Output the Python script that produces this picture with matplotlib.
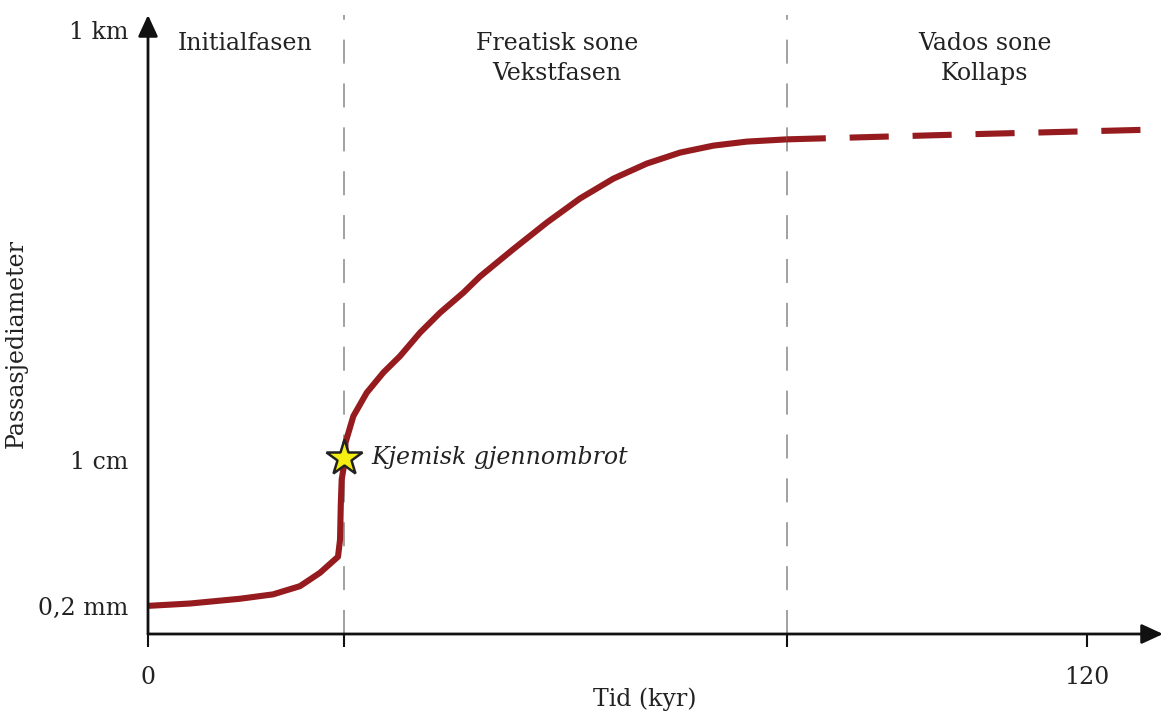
import matplotlib.pyplot as plt

plt.rcParams['font.family'] = ['DejaVu Serif']

# solid part of the curve (time in kyr, passage diameter in metres)
tid = [0, 5.37, 11.76, 15.97, 19.42, 21.98, 24.28, 24.54, 24.63, 24.75, 25.18,
       25.24, 26.24, 27.95, 30.07, 32.20, 34.76, 37.32, 40.30, 42.43, 46.65,
       50.99, 55.21, 59.46, 63.73, 67.99, 72.24, 76.51, 81.62]
diameter = [2.00e-4, 2.13e-4, 2.42e-4, 2.72e-4, 3.39e-4, 4.85e-4, 7.45e-4,
            1.18e-3, 2.88e-3, 5.90e-3, 1.01e-2, 0.0158, 0.0321, 0.0601, 0.103,
            0.160, 0.300, 0.512, 0.875, 1.35, 2.79, 5.74, 10.9, 18.5, 27.7,
            37.2, 44.8, 49.9, 53.0]
# dashed continuation (vados zone)
tid_vados = [81.62, 105.7, 129.7]
diameter_vados = [53.0, 61.0, 69.3]

gjennombrot = (25.05, 1.05e-2)
fasegrenser = [25.0, 81.66]

xticks = [0, 25.0, 81.66, 120]
xticklabels = ['0', '', '', '120']
yticks = [2e-4, 1e-2, 1e3]
yticklabels = ['0,2 mm', '1 cm', '1 km']

fasetekster = [(12.4, 'Initialfasen'), (52.3, 'Freatisk sone\nVekstfasen'),
               (106.9, 'Vados sone\nKollaps')]

red = '#951b1e'
txt = '#222222'
fs = 17

fig = plt.figure(figsize=(11.63, 7.16), dpi=100)
ax = fig.add_axes([148 / 1163, 82 / 716, 1015 / 1163, 619 / 716])
ax.set_yscale('log')
ax.set_xlim(0, 129.7)
ax.set_ylim(10 ** -4.026, 10 ** 3.17)

for s in ax.spines.values():
    s.set_visible(False)

for xg in fasegrenser:
    ax.axvline(xg, color='#9a9a9a', lw=1.3, dashes=(13.3, 11), zorder=1)

ax.plot(tid, diameter, color=red, lw=4.4, solid_capstyle='butt',
        solid_joinstyle='round', zorder=3)
ax.plot(tid_vados, diameter_vados, color=red, lw=4.4, dashes=(6.4, 3.9),
        dash_capstyle='butt', zorder=3)

ax.plot(*gjennombrot, marker='*', markersize=27, markerfacecolor='#f5ee10',
        markeredgecolor='#222222', markeredgewidth=1.8, zorder=4)
ax.text(28.6, gjennombrot[1], 'Kjemisk gjennombrot', style='italic',
        fontsize=fs, va='center', ha='left', color=txt)

for xc, t in fasetekster:
    ax.text(xc, 10 ** 2.97, t, ha='center', va='top', fontsize=fs,
            color=txt, linespacing=1.35)

# axes with arrow heads
pil = dict(arrowstyle='-|>,head_length=1.3,head_width=0.6',
           color='#111111', lw=2, shrinkA=0, shrinkB=0)
ax.annotate('', xy=(1.0, 0), xytext=(0, 0), xycoords='axes fraction',
            arrowprops=pil)
ax.annotate('', xy=(0, 1.0), xytext=(0, 0), xycoords='axes fraction',
            arrowprops=pil)

ax.set_xticks(xticks)
ax.set_xticklabels(xticklabels)
ax.tick_params(axis='x', direction='out', length=9, width=1.5, color='#111111',
               labelsize=fs, pad=14, labelcolor=txt)
ax.set_yticks(yticks)
ax.set_yticklabels(yticklabels)
ax.minorticks_off()
ax.tick_params(axis='y', length=0, labelsize=fs, pad=14, labelcolor=txt)

ax.set_ylabel('Passasjediameter', fontsize=fs, color=txt)
ax.yaxis.set_label_coords(-0.118, 0.47)
fig.text(645 / 1163, 5 / 716, 'Tid (kyr)', fontsize=fs, color=txt,
         ha='center', va='bottom')

fig.savefig('out.png', dpi=100)
